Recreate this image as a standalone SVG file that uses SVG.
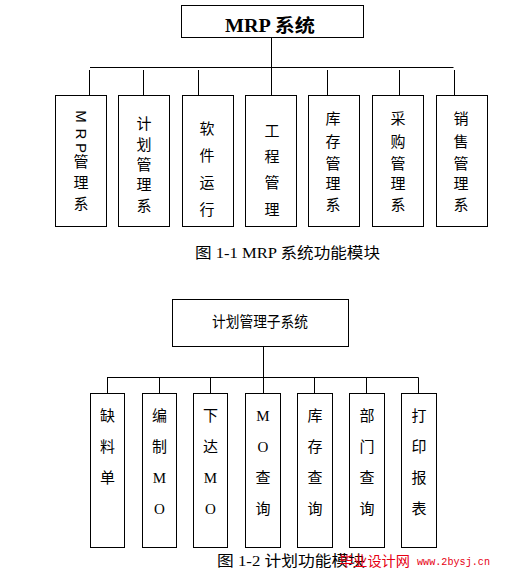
<svg xmlns="http://www.w3.org/2000/svg" width="512" height="583" viewBox="0 0 512 583">
<style>
.box{fill:#fff;stroke:#000;stroke-width:1}
.ln{stroke:#000;stroke-width:1;fill:none}
.cj{font-family:"Noto Sans CJK SC","Liberation Sans",sans-serif;font-size:15px;fill:#000;text-anchor:middle}
.se{font-family:"Liberation Serif","Noto Sans CJK SC",serif;fill:#000}
.rot{font-family:"Liberation Sans",sans-serif;font-size:15px;fill:#000;text-anchor:middle;dominant-baseline:central}
.cap{font-family:"Liberation Serif","Noto Sans CJK SC",serif;font-size:15px;fill:#000}
</style>
<rect width="512" height="583" fill="#fff"/>
<g id="connectors">
<path class="ln" d="M271.5 37V67.5M90 67.5H453.5M89.5 70V95M143.5 70V95M198.5 70V95M271.5 67.5V95M327.5 70V95M399.5 70V95M454.5 70V95"/>
<path class="ln" d="M263.5 346V377.5M107 377.5H418.5M107.5 377.5V393M159.5 377.5V393M210.5 377.5V393M263.5 377.5V393M314.5 377.5V393M366.5 377.5V393M418.5 377.5V393"/>
</g>
<g id="mrp">
<rect class="box" x="181.5" y="5.5" width="182" height="32"/>
<text x="270" y="32" class="se" font-size="18" font-weight="bold" text-anchor="middle" textLength="90" lengthAdjust="spacingAndGlyphs">MRP <tspan font-family="Noto Sans CJK SC" font-weight="bold">系统</tspan></text>
</g>
<g id="n1">
<rect class="box" x="55.5" y="95.5" width="51" height="131"/>
<text class="rot" x="81" y="116.5" transform="rotate(90 81 116.5)">M</text>
<text class="rot" x="81" y="134" transform="rotate(90 81 134)">R</text>
<text class="rot" x="81" y="148" transform="rotate(90 81 148)">P</text>
<text class="cj" x="81"><tspan x="81" y="167">管</tspan><tspan x="81" y="187.5">理</tspan><tspan x="81" y="209">系</tspan></text>
</g>
<g id="n2">
<rect class="box" x="118.5" y="95.5" width="51" height="131"/>
<text class="cj"><tspan x="144" y="129">计</tspan><tspan x="144" y="149.5">划</tspan><tspan x="144" y="170">管</tspan><tspan x="144" y="190">理</tspan><tspan x="144" y="211">系</tspan></text>
</g>
<g id="n3">
<rect class="box" x="182.5" y="95.5" width="51" height="131"/>
<text class="cj"><tspan x="207" y="134">软</tspan><tspan x="207" y="161">件</tspan><tspan x="207" y="188">运</tspan><tspan x="207" y="215">行</tspan></text>
</g>
<g id="n4">
<rect class="box" x="245.5" y="95.5" width="51" height="131"/>
<text class="cj"><tspan x="272" y="135.5">工</tspan><tspan x="272" y="161.5">程</tspan><tspan x="272" y="188">管</tspan><tspan x="272" y="215">理</tspan></text>
</g>
<g id="n5">
<rect class="box" x="308.5" y="95.5" width="51" height="131"/>
<text class="cj"><tspan x="333" y="124">库</tspan><tspan x="333" y="147">存</tspan><tspan x="333" y="169">管</tspan><tspan x="333" y="189">理</tspan><tspan x="333" y="210">系</tspan></text>
</g>
<g id="n6">
<rect class="box" x="372.5" y="95.5" width="51" height="131"/>
<text class="cj"><tspan x="398" y="124">采</tspan><tspan x="398" y="147">购</tspan><tspan x="398" y="169">管</tspan><tspan x="398" y="189">理</tspan><tspan x="398" y="210">系</tspan></text>
</g>
<g id="n7">
<rect class="box" x="436.5" y="95.5" width="51" height="131"/>
<text class="cj"><tspan x="461" y="124">销</tspan><tspan x="461" y="147">售</tspan><tspan x="461" y="169">管</tspan><tspan x="461" y="189">理</tspan><tspan x="461" y="210">系</tspan></text>
</g>
<text id="cap1" class="cap" x="195" y="258" textLength="185" lengthAdjust="spacingAndGlyphs">图 1-1 MRP 系统功能模块</text>
<g id="plan">
<rect class="box" x="172.5" y="299.5" width="176" height="47"/>
<text class="cj" x="260" y="327" font-size="14" textLength="96" lengthAdjust="spacingAndGlyphs">计划管理子系统</text>
</g>
<g id="m1">
<rect class="box" x="90.5" y="393.5" width="34" height="154"/>
<text class="cj"><tspan x="107.5" y="421">缺</tspan><tspan x="107.5" y="452">料</tspan><tspan x="107.5" y="483">单</tspan></text>
</g>
<g id="m2">
<rect class="box" x="142.5" y="393.5" width="34" height="154"/>
<text class="cj"><tspan x="159.5" y="421">编</tspan><tspan x="159.5" y="452">制</tspan><tspan x="159.5" y="483" class="se">M</tspan><tspan x="159.5" y="514" class="se">O</tspan></text>
</g>
<g id="m3">
<rect class="box" x="193.5" y="393.5" width="34" height="154"/>
<text class="cj"><tspan x="210.5" y="421">下</tspan><tspan x="210.5" y="452">达</tspan><tspan x="210.5" y="483" class="se">M</tspan><tspan x="210.5" y="514" class="se">O</tspan></text>
</g>
<g id="m4">
<rect class="box" x="245.5" y="393.5" width="35" height="154"/>
<text class="cj"><tspan x="263" y="421" class="se">M</tspan><tspan x="263" y="452" class="se">O</tspan><tspan x="263" y="483">查</tspan><tspan x="263" y="514">询</tspan></text>
</g>
<g id="m5">
<rect class="box" x="297.5" y="393.5" width="35" height="154"/>
<text class="cj"><tspan x="315" y="421">库</tspan><tspan x="315" y="452">存</tspan><tspan x="315" y="483">查</tspan><tspan x="315" y="514">询</tspan></text>
</g>
<g id="m6">
<rect class="box" x="349.5" y="393.5" width="35" height="154"/>
<text class="cj"><tspan x="367" y="421">部</tspan><tspan x="367" y="452">门</tspan><tspan x="367" y="483">查</tspan><tspan x="367" y="514">询</tspan></text>
</g>
<g id="m7">
<rect class="box" x="401.5" y="393.5" width="35" height="154"/>
<text class="cj"><tspan x="419" y="421">打</tspan><tspan x="419" y="452">印</tspan><tspan x="419" y="483">报</tspan><tspan x="419" y="514">表</tspan></text>
</g>
<text id="cap2" class="cap" x="217" y="566" textLength="148" lengthAdjust="spacingAndGlyphs">图 1-2  计划功能模块</text>
<g id="watermark" fill="#e60012">
<text x="339" y="566" font-family="Noto Sans CJK SC,sans-serif" font-size="14" textLength="71" lengthAdjust="spacingAndGlyphs">毕业设计网</text>
<text x="417" y="565" font-family="Liberation Mono,monospace" font-size="10" textLength="73" lengthAdjust="spacingAndGlyphs">www.2bysj.cn</text>
</g>
</svg>
